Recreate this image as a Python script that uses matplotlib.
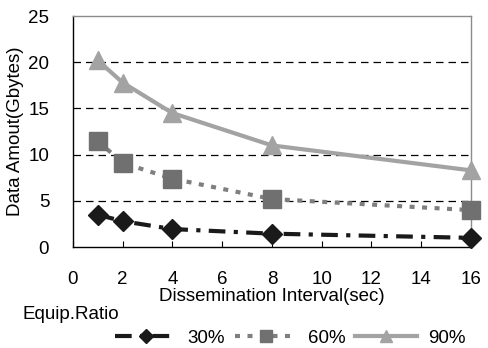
import matplotlib
matplotlib.use("Agg")
import matplotlib.pyplot as plt

plt.rcParams['font.family'] = ['Liberation Sans', 'DejaVu Sans']

x = [1, 2, 4, 8, 16]
s30 = [3.5, 2.8, 1.95, 1.45, 1.0]
s60 = [11.5, 9.1, 7.4, 5.2, 4.0]
s90 = [20.2, 17.8, 14.5, 11.0, 8.3]
labels = ['30%', '60%', '90%']
xticks = [0, 2, 4, 6, 8, 10, 12, 14, 16]
yticks = [0, 5, 10, 15, 20, 25]

FS = 13.5
fig = plt.figure(figsize=(4.89, 3.48), dpi=100)
ax = fig.add_axes([0.149, 0.290, 0.814, 0.664])

ax.plot(x, s30, color='#1a1a1a', lw=3, linestyle=(0, (4, 2, 1, 2)), marker='D',
        ms=10, mfc='#1a1a1a', mec='#1a1a1a', label=labels[0], clip_on=False, zorder=5)
ax.plot(x, s60, color='#7f7f7f', lw=3, linestyle=(0, (1.2, 1.8)), marker='s',
        ms=13, mfc='#707070', mec='#707070', label=labels[1], clip_on=False, zorder=4)
ax.plot(x, s90, color='#a3a3a3', lw=3, linestyle='-', marker='^',
        ms=13, mfc='#a3a3a3', mec='#a3a3a3', label=labels[2], clip_on=False, zorder=3)

ax.set_xlim(0, 16)
ax.set_ylim(0, 25)
ax.set_xticks(xticks)
ax.set_yticks(yticks)
ax.tick_params(axis='x', direction='in', length=4, width=0.8, labelsize=FS, pad=17)
ax.tick_params(axis='y', length=0, labelsize=FS, pad=17)
for yv in yticks[1:-1]:
    ax.axhline(yv, color='black', lw=0.9, linestyle=(0, (6, 4)), zorder=1)

ax.spines['left'].set_color('black')
ax.spines['bottom'].set_color('black')
ax.spines['top'].set_color('#8c8c8c')
ax.spines['right'].set_color('#8c8c8c')
for s in ax.spines.values():
    s.set_linewidth(1.0)

ax.set_xlabel('Dissemination Interval(sec)', fontsize=FS, labelpad=0)
ax.set_ylabel('Data Amout(Gbytes)', fontsize=FS, labelpad=3)

fig.text(0.045, 0.095, 'Equip.Ratio', fontsize=FS, va='center', ha='left')
fig.legend(loc='lower left', bbox_to_anchor=(0.2, -0.045), ncol=3, frameon=False,
           fontsize=FS, handlelength=3.3, columnspacing=0.5, handletextpad=0.6,
           markerscale=0.7)

fig.savefig('out.png', dpi=100)
